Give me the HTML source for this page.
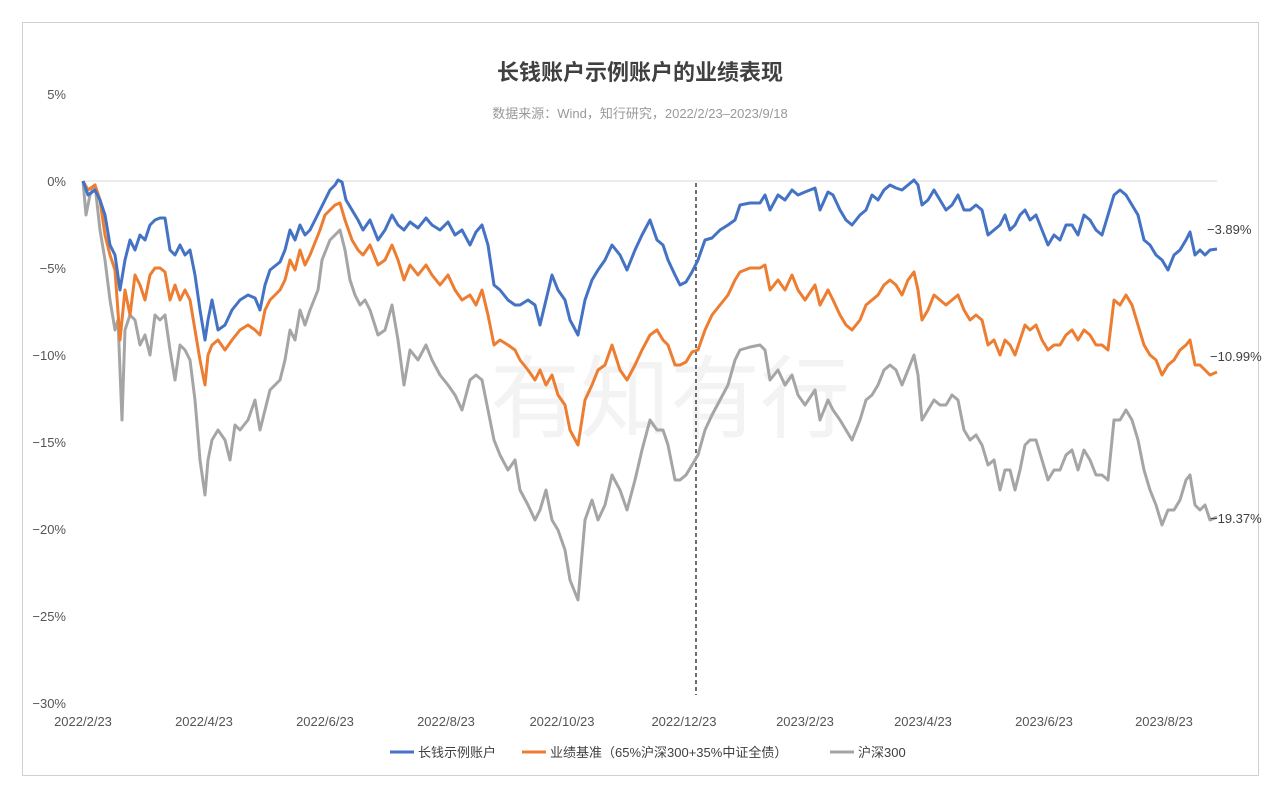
<!DOCTYPE html>
<html><head><meta charset="utf-8"><style>
body{margin:0;background:#fff;width:1280px;height:790px;overflow:hidden;font-family:"Liberation Sans","Noto Sans CJK SC",sans-serif}
</style></head><body>
<svg width="1280" height="790" xmlns="http://www.w3.org/2000/svg" font-family="Liberation Sans, Noto Sans CJK SC, sans-serif">
<rect x="22.5" y="22.5" width="1236" height="753" fill="#fff" stroke="#d0d0d0"/>
<text x="640" y="80" text-anchor="middle" font-size="22" font-weight="bold" fill="#404040">长钱账户示例账户的业绩表现</text>
<text x="640" y="118" text-anchor="middle" font-size="13" fill="#999">数据来源：Wind，知行研究，2022/2/23–2023/9/18</text>
<text x="670" y="430" text-anchor="middle" font-size="90" fill="#f3f3f3">有知有行</text>
<g font-size="13" fill="#555" text-anchor="end">
<text x="66" y="99">5%</text><text x="66" y="186">0%</text><text x="66" y="273">−5%</text><text x="66" y="360">−10%</text><text x="66" y="447">−15%</text><text x="66" y="534">−20%</text><text x="66" y="621">−25%</text><text x="66" y="708">−30%</text>
</g>
<line x1="83" y1="181" x2="1217" y2="181" stroke="#d9d9d9"/>
<g font-size="13" fill="#555" text-anchor="middle">
<text x="83" y="726">2022/2/23</text><text x="204" y="726">2022/4/23</text><text x="325" y="726">2022/6/23</text><text x="446" y="726">2022/8/23</text><text x="562" y="726">2022/10/23</text><text x="684" y="726">2022/12/23</text><text x="805" y="726">2023/2/23</text><text x="923" y="726">2023/4/23</text><text x="1044" y="726">2023/6/23</text><text x="1164" y="726">2023/8/23</text>
</g>
<line x1="696" y1="183" x2="696" y2="695" stroke="#222" stroke-width="1.3" stroke-dasharray="4,3"/>
<g fill="none" stroke-width="3" stroke-linejoin="round">
<polyline stroke="#a5a5a5" points="83,181 86,215 90,195 95,185 100,230 105,260 110,300 115,330 118,320 122,420 125,330 130,315 135,320 140,345 145,335 150,355 155,315 160,320 165,315 170,350 175,380 180,345 185,350 190,360 195,400 200,460 205,495 208,460 212,440 218,430 225,440 230,460 235,425 240,430 248,420 255,400 260,430 265,410 270,390 280,380 285,360 290,330 295,340 300,310 305,325 310,310 318,290 322,260 326,250 330,240 335,235 340,230 345,250 350,280 355,295 360,305 365,300 370,310 378,335 385,330 392,305 398,340 404,385 410,350 418,360 426,345 432,360 440,375 448,385 455,395 462,410 470,380 476,375 482,380 488,410 494,440 500,455 508,470 515,460 520,490 528,505 535,520 540,510 546,490 552,520 558,530 565,550 570,580 578,600 585,520 592,500 598,520 605,505 612,475 620,490 627,510 635,480 642,450 650,420 657,430 663,430 668,445 675,480 680,480 686,475 692,465 698,455 705,430 712,415 720,400 728,385 735,360 740,350 750,347 760,345 765,350 770,380 778,370 785,385 792,375 798,395 805,405 815,390 820,420 828,400 833,410 840,420 846,430 852,440 860,420 866,400 872,395 878,385 884,370 890,365 896,370 902,385 908,370 914,355 918,375 922,420 928,410 934,400 940,405 946,405 952,395 958,400 964,430 970,440 976,435 982,445 988,465 994,460 1000,490 1005,470 1010,470 1015,490 1020,470 1025,445 1030,440 1036,440 1042,460 1048,480 1054,470 1060,470 1066,455 1072,450 1078,470 1084,450 1090,460 1096,475 1102,475 1108,480 1114,420 1120,420 1126,410 1132,420 1138,440 1144,470 1150,490 1156,505 1162,525 1168,510 1174,510 1180,500 1186,480 1190,475 1195,505 1200,510 1205,505 1210,520 1217,517"/>
<polyline stroke="#ed7d31" points="83,181 88,190 95,185 100,200 105,235 110,255 115,270 120,340 125,290 130,315 135,275 140,285 145,300 150,275 155,268 160,268 165,272 170,300 175,285 180,300 185,290 190,300 195,330 200,360 205,385 208,355 212,345 218,340 225,350 232,340 240,330 248,325 255,330 260,335 265,310 270,300 280,290 285,280 290,260 295,270 300,250 305,265 310,255 320,230 325,215 330,210 335,205 340,203 345,220 352,240 358,250 363,255 370,245 378,265 385,260 392,245 398,260 404,280 410,265 418,275 426,265 432,275 440,285 448,275 455,290 462,300 470,295 476,305 482,290 488,315 494,345 500,340 508,345 515,350 520,360 528,370 535,380 540,370 546,385 552,375 558,395 565,405 570,430 578,445 585,400 592,385 598,370 605,365 612,345 620,370 627,380 635,365 642,350 650,335 657,330 663,340 668,345 675,365 680,365 686,362 692,352 698,350 705,330 712,315 720,305 728,295 735,280 740,272 750,268 760,268 765,265 770,290 778,280 785,290 792,275 798,290 805,300 815,285 820,305 828,290 833,300 840,315 846,325 852,330 860,320 866,305 872,300 878,295 884,285 890,280 896,285 902,295 908,280 914,272 918,290 922,320 928,310 934,295 940,300 946,305 952,300 958,295 964,310 970,320 976,315 982,320 988,345 994,340 1000,355 1005,340 1010,345 1015,355 1020,340 1025,325 1030,330 1036,325 1042,340 1048,350 1054,345 1060,345 1066,335 1072,330 1078,340 1084,330 1090,335 1096,345 1102,345 1108,350 1114,300 1120,305 1126,295 1132,305 1138,325 1144,345 1150,355 1156,360 1162,375 1168,365 1174,360 1180,350 1186,345 1190,340 1195,365 1200,365 1205,370 1210,375 1217,372"/>
<polyline stroke="#4472c4" points="83,181 88,195 95,190 100,200 105,215 110,245 115,255 120,290 125,260 130,240 135,250 140,235 145,240 150,225 155,220 160,218 165,218 170,250 175,255 180,245 185,255 190,250 195,275 200,310 205,340 208,320 212,300 218,330 225,325 232,310 240,300 248,295 255,298 260,310 265,285 270,270 280,262 285,250 290,230 295,240 300,225 305,235 310,230 320,210 325,200 330,190 335,185 338,180 342,182 346,200 352,210 358,220 363,230 370,220 378,240 385,230 392,215 398,225 404,230 410,222 418,228 426,218 432,225 440,230 448,222 455,235 462,230 470,245 476,232 482,225 488,245 494,285 500,290 508,300 515,305 520,305 528,300 535,305 540,325 546,300 552,275 558,290 565,300 570,320 578,335 585,300 592,280 598,270 605,260 612,245 620,255 627,270 635,250 642,235 650,220 657,240 663,245 668,260 675,275 680,285 686,282 692,272 698,260 705,240 712,238 720,230 728,225 735,220 740,205 750,203 760,203 765,195 770,210 778,195 785,200 792,190 798,195 805,192 815,188 820,210 828,192 833,195 840,210 846,220 852,225 860,215 866,210 872,195 878,200 884,190 890,185 896,188 902,190 908,185 914,180 918,185 922,205 928,200 934,190 940,200 946,210 952,205 958,195 964,210 970,210 976,205 982,210 988,235 994,230 1000,225 1005,215 1010,230 1015,225 1020,215 1025,210 1030,220 1036,215 1042,230 1048,245 1054,235 1060,240 1066,225 1072,225 1078,235 1084,215 1090,220 1096,230 1102,235 1108,215 1114,195 1120,190 1126,195 1132,205 1138,215 1144,240 1150,245 1156,255 1162,260 1168,270 1174,255 1180,250 1186,240 1190,232 1195,255 1200,250 1205,255 1210,250 1217,249"/>
</g>
<g font-size="13" fill="#404040">
<text x="1207" y="234">−3.89%</text><text x="1210" y="361">−10.99%</text><text x="1210" y="523">−19.37%</text>
</g>
<g font-size="13" fill="#404040">
<line x1="390" y1="752" x2="414" y2="752" stroke="#4472c4" stroke-width="3"/><text x="418" y="757">长钱示例账户</text>
<line x1="522" y1="752" x2="546" y2="752" stroke="#ed7d31" stroke-width="3"/><text x="550" y="757">业绩基准（65%沪深300+35%中证全债）</text>
<line x1="830" y1="752" x2="854" y2="752" stroke="#a5a5a5" stroke-width="3"/><text x="858" y="757">沪深300</text>
</g>
</svg>
</body></html>
